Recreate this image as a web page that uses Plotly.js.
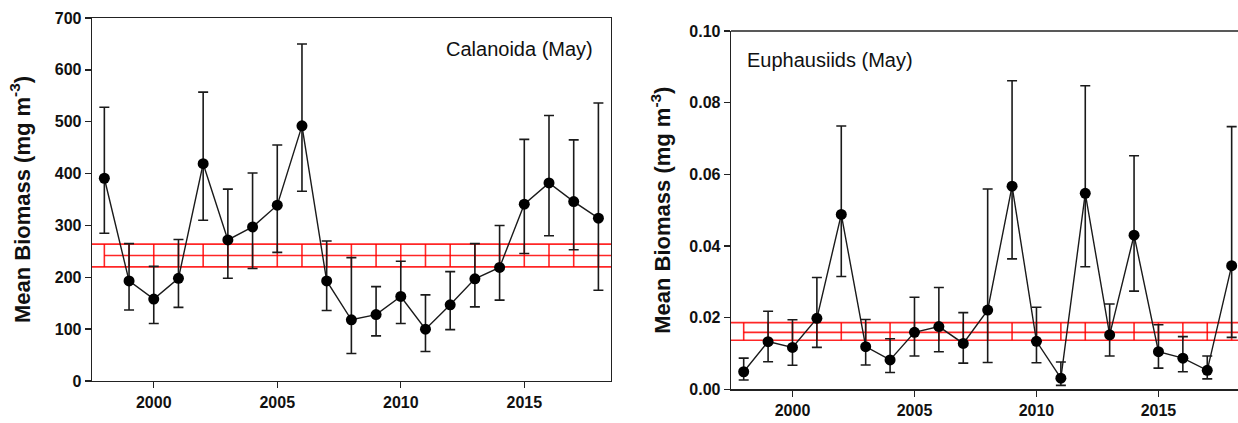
<!DOCTYPE html>
<html>
<head>
<meta charset="utf-8">
<script src="https://cdn.plot.ly/plotly-3.0.1.min.js"></script>
<style>html,body{margin:0;padding:0;background:#fff;}#chart{width:1238px;height:423px;}</style>
</head>
<body>
<div id="chart"></div>
<script>
// ---- Data ----
const years = [1998,1999,2000,2001,2002,2003,2004,2005,2006,2007,2008,2009,2010,2011,2012,2013,2014,2015,2016,2017,2018];

const calMean  = [391,193,158,198,419,272,297,339,492,193,118,128,163,100,147,197,219,341,382,346,314];
const calUpper = [528,265,221,273,557,370,401,455,650,270,238,182,231,166,211,265,300,466,512,465,536];
const calLower = [285,137,111,142,310,198,217,248,366,136,53,87,111,57,99,143,156,246,280,253,175];
const calBand  = {lower: 220, mean: 242, upper: 264};

const euMean  = [0.0049,0.0133,0.0117,0.0198,0.0488,0.0119,0.0082,0.0159,0.0175,0.0128,0.0221,0.0567,0.0134,0.0031,0.0547,0.0152,0.0430,0.0105,0.0087,0.0053,0.0345];
const euUpper = [0.0087,0.0218,0.0194,0.0312,0.0735,0.0195,0.0141,0.0257,0.0284,0.0214,0.0559,0.0861,0.0229,0.0076,0.0847,0.0238,0.0652,0.0180,0.0147,0.0093,0.0733];
const euLower = [0.0026,0.0077,0.0067,0.0117,0.0315,0.0068,0.0047,0.0093,0.0105,0.0073,0.0075,0.0364,0.0074,0.0011,0.0342,0.0093,0.0274,0.0059,0.0049,0.0029,0.0145];
const euBand  = {lower: 0.0137, mean: 0.0159, upper: 0.0186};

const xTicks = [2000, 2005, 2010, 2015];
const calYTicks = [0,100,200,300,400,500,600,700];
const euYTicks = [0,0.02,0.04,0.06,0.08,0.10];
const euYTickText = ['0.00','0.02','0.04','0.06','0.08','0.10'];

const labels = {
  yTitle: 'Mean Biomass (mg m<sup>-3</sup>)',
  cal: 'Calanoida (May)',
  eu: 'Euphausiids (May)'
};

// ---- Helpers ----
const RED = 'rgba(255,0,0,0.85)';
const DARK = '#1a1a1a';
const xRangeL = [1997.5, 2018.51];
const xRangeR = [1997.48, 2018.26];

function bandTraces(band, xr, xa, ya) {
  const n = years.length;
  return [
    {x: xr, y: [band.upper, band.upper], xaxis: xa, yaxis: ya, mode: 'lines', line: {color: RED, width: 1.6}, hoverinfo: 'skip', showlegend: false},
    {x: xr, y: [band.lower, band.lower], xaxis: xa, yaxis: ya, mode: 'lines', line: {color: RED, width: 1.6}, hoverinfo: 'skip', showlegend: false},
    {x: years.concat([xr[1]]), y: new Array(n + 1).fill(band.mean), xaxis: xa, yaxis: ya, mode: 'lines',
     line: {color: RED, width: 1.6}, hoverinfo: 'skip', showlegend: false,
     error_y: {type: 'data', symmetric: false,
       array: new Array(n).fill(band.upper - band.mean).concat([0]),
       arrayminus: new Array(n).fill(band.mean - band.lower).concat([0]),
       color: RED, thickness: 1.6, width: 0}}
  ];
}

function dataTrace(mean, up, lo, xa, ya) {
  return {
    x: years, y: mean, xaxis: xa, yaxis: ya, mode: 'lines+markers', showlegend: false,
    line: {color: DARK, width: 1.4},
    marker: {color: '#000', size: 11},
    error_y: {type: 'data', symmetric: false,
      array: up.map((u, i) => u - mean[i]),
      arrayminus: lo.map((l, i) => mean[i] - l),
      color: DARK, thickness: 1.6, width: 5}
  };
}

const traces = []
  .concat(bandTraces(calBand, xRangeL, 'x', 'y'))
  .concat([dataTrace(calMean, calUpper, calLower, 'x', 'y')])
  .concat(bandTraces(euBand, xRangeR, 'x2', 'y2'))
  .concat([dataTrace(euMean, euUpper, euLower, 'x2', 'y2')]);

const tickFont = {family: 'Liberation Sans, Arial, sans-serif', size: 16, color: '#111', weight: 'bold'};
const titleFont = {family: 'Liberation Sans, Arial, sans-serif', size: 22, color: '#111', weight: 'bold'};

const W = 1238, H = 423;
const layout = {
  width: W, height: H,
  margin: {l: 0, r: 0, t: 0, b: 0},
  paper_bgcolor: '#fff', plot_bgcolor: '#fff',
  showlegend: false,
  xaxis: {
    domain: [92 / W, 611 / W], range: xRangeL, anchor: 'y',
    tickvals: xTicks, ticks: 'outside', ticklen: 6, tickwidth: 1.3, tickcolor: '#222',
    showline: true, linecolor: '#222', linewidth: 1.3, mirror: true,
    showgrid: false, zeroline: false, tickfont: tickFont
  },
  yaxis: {
    domain: [1 - 381 / H, 1 - 18 / H], range: [0, 700], anchor: 'x',
    tickvals: calYTicks, ticks: 'outside', ticklen: 6, tickwidth: 1.3, tickcolor: '#222',
    showline: true, linecolor: '#222', linewidth: 1.3, mirror: true,
    showgrid: false, zeroline: false, tickfont: tickFont,
    title: {text: labels.yTitle, font: titleFont, standoff: 18}
  },
  xaxis2: {
    domain: [731 / W, 1], range: xRangeR, anchor: 'y2',
    tickvals: xTicks, ticks: 'outside', ticklen: 6, tickwidth: 1.3, tickcolor: '#222',
    showline: true, linecolor: '#222', linewidth: 1.3, mirror: false,
    showgrid: false, zeroline: false, tickfont: tickFont
  },
  yaxis2: {
    domain: [1 - 389.3 / H, 1 - 31 / H], range: [0, 0.1], anchor: 'x2',
    tickvals: euYTicks, ticktext: euYTickText, ticks: 'outside', ticklen: 6, tickwidth: 1.3, tickcolor: '#222',
    showline: true, linecolor: '#222', linewidth: 1.3, mirror: false,
    showgrid: false, zeroline: false, tickfont: tickFont,
    title: {text: labels.yTitle, font: titleFont, standoff: 12}
  },
  shapes: [
    {type: 'line', xref: 'x2 domain', yref: 'y2 domain', x0: 0, x1: 1, y0: 1, y1: 1, line: {color: '#222', width: 1.3}}
  ],
  annotations: [
    {text: labels.cal, xref: 'x domain', yref: 'y domain', x: 0.969, y: 0.915, xanchor: 'right', yanchor: 'middle',
     showarrow: false, font: {family: 'Liberation Sans, Arial, sans-serif', size: 20, color: '#111'}},
    {text: labels.eu, xref: 'x2 domain', yref: 'y2 domain', x: 0.027, y: 0.919, xanchor: 'left', yanchor: 'middle',
     showarrow: false, font: {family: 'Liberation Sans, Arial, sans-serif', size: 20, color: '#111'}}
  ]
};

Plotly.newPlot('chart', traces, layout, {staticPlot: true, displayModeBar: false});
</script>
</body>
</html>
